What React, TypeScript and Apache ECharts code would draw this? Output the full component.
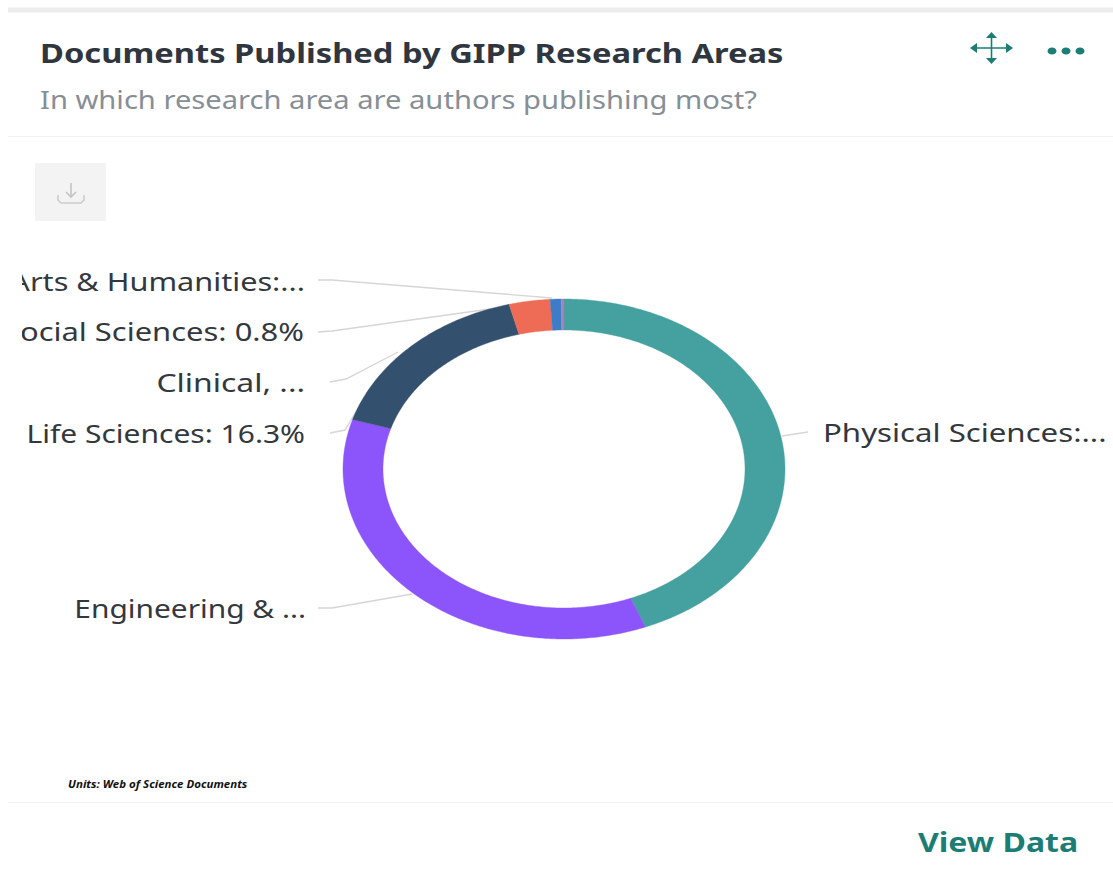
import React, { useEffect, useRef } from "react";
import * as echarts from "echarts";

const categories = ["Physical Sciences", "Engineering & Technology", "Life Sciences", "Clinical, Pre-Clinical & Health", "Social Sciences", "Arts & Humanities"];
const shares = [44.0, 35.7, 16.3, 3.0, 0.8, 0.2];
const labelTexts = ["Physical Sciences:...", "Engineering & ...", "Life Sciences: 16.3%", "Clinical, ...", "Social Sciences: 0.8%", "Arts & Humanities:..."];
const colors = ["#45a0a0", "#8b55fb", "#34506f", "#ee6b55", "#3f7cc8", "#a583b4"];

const FONT = '"Noto Sans", sans-serif';
const TEAL = "#1c7d74";
const CX = 564, CY = 469, ORX = 221, ORY = 170, IRX = 181, IRY = 139;

const labelSpots = [
  { x: 823, y: 432, align: "left", sx: 1.2 },
  { x: 306, y: 608, align: "right", sx: 1.15 },
  { x: 305, y: 433, align: "right", sx: 1.154 },
  { x: 305, y: 382, align: "right", sx: 1.228 },
  { x: 304, y: 331, align: "right", sx: 1.19 },
  { x: 305, y: 281, align: "right", sx: 1.18 },
];
const leaders = [
  [[782, 436], [808, 432]],
  [[318, 608], [332, 608], [412, 594]],
  [[330, 433], [345, 430], [360, 405]],
  [[330, 382], [346, 379], [398, 352]],
  [[318, 332], [332, 331], [490, 309]],
  [[318, 280], [332, 280], [552, 298]],
];

function renderSector(params: any, api: any) {
  const i = params.dataIndex;
  const total = shares.reduce((a, b) => a + b, 0);
  const before = shares.slice(0, i).reduce((a, b) => a + b, 0);
  const a0 = (before / total) * Math.PI * 2;
  const a1 = ((before + api.value(0)) / total) * Math.PI * 2;
  const n = Math.max(3, Math.ceil((a1 - a0) / 0.01));
  const pts: number[][] = [];
  for (let k = 0; k <= n; k++) {
    const a = a0 + ((a1 - a0) * k) / n;
    pts.push([CX + ORX * Math.sin(a), CY - ORY * Math.cos(a)]);
  }
  for (let k = n; k >= 0; k--) {
    const a = a0 + ((a1 - a0) * k) / n;
    pts.push([CX + IRX * Math.sin(a), CY - IRY * Math.cos(a)]);
  }
  return {
    type: "polygon",
    shape: { points: pts },
    style: { fill: colors[i], stroke: colors[i], lineWidth: 0.4 },
  };
}

const txt = (text: string, x: number, y: number, fontSize: number, fill: string, fontWeight: any, sx: number, align = "left", extra: any = {}) => ({
  type: "text",
  x,
  y,
  scaleX: sx,
  z: 10,
  style: { text, fontSize, fontFamily: FONT, fontWeight, fill, align, verticalAlign: "middle", ...extra },
});
const hline = (y: number, stroke: string, lineWidth: number) => ({
  type: "line",
  z: 1,
  shape: { x1: 8, y1: y, x2: 1113, y2: y },
  style: { stroke, lineWidth },
});
const seg = (x1: number, y1: number, x2: number, y2: number, stroke: string, lineWidth: number) => ({
  type: "line",
  z: 10,
  shape: { x1, y1, x2, y2 },
  style: { stroke, lineWidth },
});
const tri = (points: number[][]) => ({ type: "polygon", z: 10, shape: { points }, style: { fill: TEAL } });

export default function App() {
  const ref = useRef<HTMLDivElement>(null);
  useEffect(() => {
    document.body.style.margin = "0";
    const chart = echarts.init(ref.current!, undefined, { renderer: "svg" });
    chart.setOption({
      animation: false,
      backgroundColor: "#ffffff",
      series: [
        {
          type: "custom",
          coordinateSystem: "none",
          z: 5,
          data: categories.map((name, i) => ({ name, value: shares[i] })),
          renderItem: renderSector,
        },
      ],
      graphic: [
        {
          type: "group",
          children: [
            hline(10, "#ececec", 5),
            hline(136.5, "#f3f3f3", 1),
            hline(802.5, "#f3f3f3", 1),
            txt("Documents Published by GIPP Research Areas", 40, 53, 26, "#2f3640", 700, 1.257),
            txt("In which research area are authors publishing most?", 40, 99, 25, "#868e96", 400, 1.166),
            txt("View Data", 918, 842, 27, TEAL, 700, 1.185),
            txt("Units: Web of Science Documents", 68, 784, 10, "#111111", 700, 1.15, "left", { fontStyle: "italic" }),
            // move icon
            seg(973, 48, 1010, 48, TEAL, 1.6),
            seg(991.5, 35, 991.5, 61, TEAL, 1.6),
            tri([[970, 48], [977, 43], [977, 53]]),
            tri([[1013, 48], [1006, 43], [1006, 53]]),
            tri([[991.5, 32], [986, 38], [997, 38]]),
            tri([[991.5, 64], [986, 58], [997, 58]]),
            // more icon
            ...[1052, 1066, 1080].map((x) => ({
              type: "ellipse",
              z: 10,
              shape: { cx: x, cy: 51, rx: 4.5, ry: 3.6 },
              style: { fill: TEAL },
            })),
            // download button
            { type: "rect", z: 1, shape: { x: 35, y: 163, width: 71, height: 58 }, style: { fill: "#f3f3f3" } },
            seg(71, 183, 71, 197, "#c4c4c4", 1.6),
            {
              type: "polyline",
              z: 10,
              shape: { points: [[66, 192], [71, 197], [76, 192]] },
              style: { stroke: "#c4c4c4", lineWidth: 1.6, fill: "none" },
            },
            {
              type: "polyline",
              z: 10,
              shape: { points: [[58, 195], [58, 200], [61, 203], [81, 203], [84, 200], [84, 195]] },
              style: { stroke: "#cccccc", lineWidth: 1.6, fill: "none" },
            },
            // leader lines sit beneath the ring
            ...leaders.map((points) => ({
              type: "polyline",
              z: 1,
              shape: { points },
              style: { stroke: "#d6d6d6", lineWidth: 1.4, fill: "none" },
            })),
            // labels
            ...labelTexts.map((t, i) => txt(t, labelSpots[i].x, labelSpots[i].y, 26, "#33383e", 400, labelSpots[i].sx, labelSpots[i].align)),
            // the left edge of the plot crops the long labels
            { type: "rect", z: 20, shape: { x: 0, y: 260, width: 22, height: 100 }, style: { fill: "#ffffff" } },
          ],
        },
      ],
    });
    return () => chart.dispose();
  }, []);
  return <div ref={ref} style={{ position: "fixed", left: 0, top: 0, width: 1113, height: 874, overflow: "hidden" }} />;
}
